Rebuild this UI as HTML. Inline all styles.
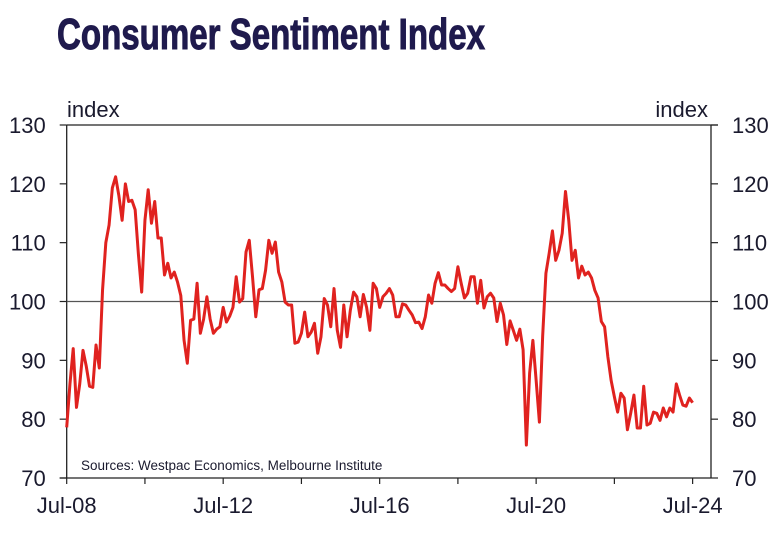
<!DOCTYPE html>
<html><head><meta charset="utf-8"><style>
html,body{margin:0;padding:0;background:#fff;}
svg{display:block;font-family:"Liberation Sans",Arial,sans-serif;}
</style></head><body>
<svg id="chart" width="781" height="538" viewBox="0 0 781 538">
<text x="57" y="49" font-size="44" font-weight="bold" fill="#1f1a4d" stroke="#1f1a4d" stroke-width="1" textLength="428" lengthAdjust="spacingAndGlyphs">Consumer Sentiment Index</text>
<g id="axes"></g>
<g id="series"></g>
</svg>
<script>
const values = [78.6,86,92,82,86,91.7,89,85.6,85.4,92.6,88.7,102,110,113,119.3,121.2,118,113.8,120,117,117.2,115.6,108,101.6,113.8,119,113.3,117,110.8,110.8,104.5,106.5,104,105,103.3,101,93.4,89.5,96.8,97,103.1,94.6,97,100.8,97,94.6,95.3,95.7,99,96.5,97.5,99,
104.2,99.9,100.5,108.4,110.4,104.2,97.4,102,102.2,105.3,110.4,108.2,110.1,105,103.3,99.9,99.4,99.4,92.9,93.1,94.6,98.2,94,94.8,96.3,91.2,94,100.5,99.4,95.7,102.2,95.1,92.2,99.4,94,98.5,101.6,100.8,97.4,101.2,99,95.1,103.1,102.2,99,100.8,101.4,102.2,
101.1,97.4,97.4,99.6,99.4,98.5,97.7,96.4,96.5,95.4,97.4,101.1,99.7,103.1,104.9,102.8,102.8,102.2,101.7,102.2,105.9,103.1,100.6,101.4,104.2,104.2,99.7,103.6,98.9,100.8,101.4,100.6,96.6,99.7,97.7,92.7,96.7,95.1,93.4,95.3,91.8,
75.6,87.8,93.4,86.6,79.5,94.1,104.8,108.2,112,107,108.7,111.6,118.7,113.8,107,108.7,104,106,104.5,105,104,101.9,100.6,96.6,95.7,90.6,86.6,83.8,81.2,84.4,83.6,78.2,81,84.1,78.5,78.5,85.6,79,79.3,81.2,81,79.8,81.9,80.4,81.9,81.2,86,84.1,82.4,82.2,83.6,82.8];
const yTicks = [70,80,90,100,110,120,130];
const xTickLabels = ["Jul-08","Jul-12","Jul-16","Jul-20","Jul-24"];
const xTickIdx = [0,48,96,144,192];
const sourceNote = "Sources: Westpac Economics, Melbourne Institute";

const NS="http://www.w3.org/2000/svg";
const L=66.7,R=711,T=125,B=478,X0=66.7,MW=3.26;
const x=i=>X0+i*MW;
const y=v=>B-(v-70)*(B-T)/60;
function mk(tag,attrs,parent){const e=document.createElementNS(NS,tag);for(const k in attrs)e.setAttribute(k,attrs[k]);parent.appendChild(e);return e;}
const ax=document.getElementById('axes');
const sr=document.getElementById('series');
let e;
e=mk('line',{x1:L,y1:T,x2:R+7,y2:T,stroke:'#222','stroke-width':1.3},ax);


e=mk('line',{x1:L,y1:T,x2:L,y2:B,stroke:'#222','stroke-width':1.3},ax);


e=mk('line',{x1:R,y1:T,x2:R,y2:B,stroke:'#222','stroke-width':1.3},ax);


e=mk('line',{x1:L-7,y1:B,x2:R,y2:B,stroke:'#222','stroke-width':1.3},ax);


e=mk('line',{x1:L,y1:y(100),x2:R,y2:y(100),stroke:'#555','stroke-width':1.2},ax);


yTicks.forEach(v=>{
  const yy=y(v);
  e=mk('line',{x1:L-7,y1:yy,x2:L,y2:yy,stroke:'#222','stroke-width':1.2},ax);
  
  
  e=mk('line',{x1:R,y1:yy,x2:R+7,y2:yy,stroke:'#222','stroke-width':1.2},ax);
  
  
  e=mk('text',{x:L-21,y:yy+8,'font-size':22,'text-anchor':'end',fill:'#1a1a2e'},ax);
  e.textContent=v;
  
  
  e=mk('text',{x:R+21,y:yy+8,'font-size':22,'text-anchor':'start',fill:'#1a1a2e'},ax);
  e.textContent=v;
  
  
});
for(let i=0;i<=192;i+=24){
  e=mk('line',{x1:x(i),y1:B,x2:x(i),y2:B+6,stroke:'#222','stroke-width':1.2},ax);
  
  
}
xTickLabels.forEach((lab,k)=>{
  e=mk('text',{x:x(xTickIdx[k]),y:B+35,'font-size':22,'text-anchor':'middle',fill:'#1a1a2e'},ax);
  e.textContent=lab;
  
  
});
e=mk('text',{x:67,y:117,'font-size':22,fill:'#1a1a2e'},ax);
e.textContent='index';


e=mk('text',{x:708,y:117,'font-size':22,'text-anchor':'end',fill:'#1a1a2e'},ax);
e.textContent='index';


e=mk('text',{x:81,y:470,'font-size':13.5,fill:'#1a1a2e'},ax);
e.textContent=sourceNote;


const d=values.map((v,i)=>(i?'L':'M')+x(i).toFixed(2)+' '+y(v).toFixed(2)).join(' ');
e=mk('path',{d:d,fill:'none',stroke:'#e0221f','stroke-width':3,'stroke-linejoin':'round'},sr);


</script>
</body></html>
